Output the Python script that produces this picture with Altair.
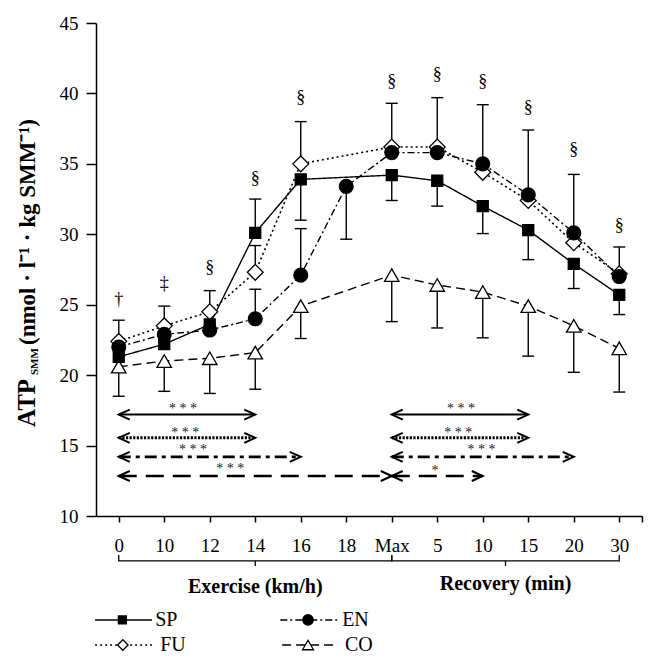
import json
import altair as alt
import pandas as pd

FONT = "Liberation Serif"

# ---------------- data ----------------
cats = ["0", "10", "12", "14", "16", "18", "Max", "5", "10", "15", "20", "30"]
sp = [21.3, 22.2, 23.6, 30.1, 33.9, None, 34.2, 33.8, 32.0, 30.3, 27.9, 25.7]
fu = [22.4, 23.5, 24.5, 27.3, 35.0, None, 36.2, 36.2, 34.4, 32.4, 29.4, 27.2]
en = [22.0, 22.9, 23.2, 24.0, 27.1, 33.4, 35.8, 35.8, 35.0, 32.8, 30.1, 27.0]
co = [20.6, 21.0, 21.2, 21.6, 24.9, None, 27.1, 26.4, 25.9, 24.9, 23.5, 21.9]

# error bar end points (one-sided bars)
sp_err = [None, None, None, 32.5, 31.0, None, 32.4, 32.0, 30.05, 28.2, 26.15, 24.3]
fu_err = [23.9, 24.9, 26.0, 29.2, 38.0, None, None, None, None, None, None, None]
en_err = [None, None, None, 26.1, 30.4, 29.65, 39.3, 39.7, 39.2, 37.4, 34.25, 29.1]
co_err = [18.5, 18.85, 18.7, 19.0, 22.6, None, 23.8, 23.35, 22.65, 21.35, 20.2, 18.8]

sig_labels = ["†", "‡", "§", "§", "§", "", "§", "§", "§", "§", "§", "§"]
sig_y = [25.3, 26.5, 27.6, 33.9, 39.7, None, 40.8, 41.3, 40.8, 39.0, 36.0, 30.6]

arrow_start = [0, 0, 0, 0, 6, 6, 6, 6]
arrow_end = [3, 3, 4, 6, 9, 9, 10, 8]
arrow_y = [17.2, 15.55, 14.2, 12.84, 17.2, 15.55, 14.2, 12.84]
arrow_style = ["solid", "dot", "dashdot", "dash", "solid", "dot", "dashdot", "dash"]
arrow_text = ["* * *", "* * *", "* * *", "* * *", "* * *", "* * *", "* * *", "*"]
arrow_text_x = [1.41, 1.46, 1.63, 2.45, 7.52, 7.46, 7.97, 6.95]
arrow_text_y = [17.3, 15.6, 14.4, 13.05, 17.3, 15.6, 14.4, 12.9]

brace_x = [[0, 0, 6, 6], [6, 6, 11, 11]]
brace_y = [7.23, 6.81, 6.81, 7.23]
brace_mid = [3, 8.5]
brace_mid_y = [6.81, 6.45]

group_labels = ["Exercise (km/h)", "Recovery (min)"]
group_x = [3, 8.5]
group_y = [4.53, 4.75]

leg_names = ["SP", "EN", "FU", "CO"]
leg_x0 = [-0.52, 3.55, -0.52, 3.59]
leg_x1 = [0.73, 4.80, 0.73, 4.82]
leg_mx = [0.08, 4.16, 0.09, 4.16]
leg_tx = [0.80, 4.91, 0.91, 4.97]
leg_y = [2.62, 2.62, 0.84, 0.84]

# ---------------- styles ----------------
series = {
    "SP": dict(vals=sp, err=sp_err, dash=[1, 0], sw=1.4, shape="square", size=121, fill="black"),
    "FU": dict(vals=fu, err=fu_err, dash=[2, 3], sw=1.6, shape="diamond", size=250, fill="white"),
    "EN": dict(vals=en, err=en_err, dash=[7, 3, 2, 3], sw=1.4, shape="circle", size=190, fill="black"),
    "CO": dict(vals=co, err=co_err, dash=[9, 5], sw=1.4, shape="triangle-up", size=210, fill="white"),
}
leg_size = {"SP": 64, "FU": 110, "EN": 110, "CO": 120}
arrow_dash = {"solid": [1, 0], "dot": [2.2, 1.4], "dashdot": [12, 5, 4, 5], "dash": [18, 9]}
arrow_w = {"solid": 2.0, "dot": 3.0, "dashdot": 2.6, "dash": 2.6}

xscale = alt.Scale(domain=[-0.5, 11.5], nice=False, zero=False)
yscale = alt.Scale(domain=[10, 45], nice=False, zero=False)
label_expr = json.dumps(cats) + "[round(datum.value)] || ''"
xaxis = alt.Axis(values=list(range(12)) + [11.5], labelExpr=label_expr, title="", grid=False,
                 domainColor="black", domainWidth=1.5, tickColor="black", tickWidth=1.5,
                 tickSize=6, labelFont=FONT, labelFontSize=19, labelColor="black",
                 labelPadding=14, labelFlush=False, labelOverlap=False)
yaxis = alt.Axis(values=[10, 15, 20, 25, 30, 35, 40, 45], title="", grid=False,
                 domainColor="black", domainWidth=1.5, tickColor="black", tickWidth=1.5,
                 tickSize=10, labelFont=FONT, labelFontSize=19, labelColor="black",
                 labelPadding=8, labelFlush=False, labelOverlap=False)
X = alt.X("x:Q", scale=xscale, axis=xaxis)
Y = alt.Y("y:Q", scale=yscale, axis=yaxis)

layers = []

# series lines
for name in ["CO", "EN", "FU", "SP"]:
    s = series[name]
    df = pd.DataFrame([{"x": i, "y": v} for i, v in enumerate(s["vals"]) if v is not None])
    layers.append(alt.Chart(df).mark_line(color="black", strokeWidth=s["sw"], strokeDash=s["dash"])
                  .encode(x=X, y=Y, order="x:Q"))

# error bars
for name in ["CO", "EN", "FU", "SP"]:
    s = series[name]
    df = pd.DataFrame([{"x": i, "y": v, "y2": e} for i, (v, e) in enumerate(zip(s["vals"], s["err"]))
                       if v is not None and e is not None])
    layers.append(alt.Chart(df).mark_rule(color="black", strokeWidth=1.4)
                  .encode(x=X, y=Y, y2=alt.Y2("y2:Q")))
    dfc = pd.DataFrame({"x": df["x"], "y": df["y2"]})
    layers.append(alt.Chart(dfc).mark_tick(orient="horizontal", color="black", size=12,
                                           thickness=1.4, opacity=1)
                  .encode(x=X, y=Y))

# points
for name in ["CO", "FU", "SP", "EN"]:
    s = series[name]
    df = pd.DataFrame([{"x": i, "y": v} for i, v in enumerate(s["vals"]) if v is not None])
    layers.append(alt.Chart(df).mark_point(shape=s["shape"], size=s["size"], filled=True,
                                           fill=s["fill"], stroke="black", strokeWidth=1.3,
                                           opacity=1, fillOpacity=1)
                  .encode(x=X, y=Y))

# significance marks
dsig = pd.DataFrame([{"x": i, "y": v, "t": t} for i, (t, v) in enumerate(zip(sig_labels, sig_y)) if v is not None])
layers.append(alt.Chart(dsig).mark_text(font=FONT, fontSize=18, color="black", baseline="middle")
              .encode(x=X, y=Y, text="t:N"))

# arrows
for st in ["solid", "dot", "dashdot", "dash"]:
    rows = [i for i, a in enumerate(arrow_style) if a == st]
    df = pd.DataFrame({"x": [arrow_start[i] for i in rows], "x2": [arrow_end[i] for i in rows],
                       "y": [arrow_y[i] for i in rows]})
    layers.append(alt.Chart(df).mark_rule(color="black", strokeWidth=arrow_w[st],
                                          strokeDash=arrow_dash[st])
                  .encode(x=X, x2=alt.X2("x2:Q"), y=Y))
dl = pd.DataFrame({"x": arrow_start, "y": arrow_y})
dr = pd.DataFrame({"x": arrow_end, "y": arrow_y})
layers.append(alt.Chart(dl).mark_point(shape="M2.2,-1L0,0L2.2,1", size=100, filled=False,
                                       stroke="black", strokeWidth=2, opacity=1)
              .encode(x=X, y=Y))
layers.append(alt.Chart(dr).mark_point(shape="M-2.2,-1L0,0L-2.2,1", size=100, filled=False,
                                       stroke="black", strokeWidth=2, opacity=1)
              .encode(x=X, y=Y))
dat = pd.DataFrame({"x": arrow_text_x, "y": arrow_text_y, "t": arrow_text})
layers.append(alt.Chart(dat).mark_text(font=FONT, fontSize=14, color="#222222", baseline="alphabetic")
              .encode(x=X, y=Y, text="t:N"))

# braces
for k, bx in enumerate(brace_x):
    df = pd.DataFrame({"x": bx, "y": brace_y, "o": [0, 1, 2, 3]})
    layers.append(alt.Chart(df).mark_line(color="black", strokeWidth=1.3, interpolate="linear")
                  .encode(x=X, y=Y, order="o:Q"))
dbm = pd.DataFrame({"x": brace_mid, "y": [brace_mid_y[0]] * 2, "y2": [brace_mid_y[1]] * 2})
layers.append(alt.Chart(dbm).mark_rule(color="black", strokeWidth=1.3)
              .encode(x=X, y=Y, y2=alt.Y2("y2:Q")))
dg = pd.DataFrame({"x": group_x, "y": group_y, "t": group_labels})
layers.append(alt.Chart(dg).mark_text(font=FONT, fontSize=20, fontWeight="bold", color="black",
                                      baseline="alphabetic")
              .encode(x=X, y=Y, text="t:N"))

# legend
for k, name in enumerate(leg_names):
    s = series[name]
    dfl = pd.DataFrame({"x": [leg_x0[k]], "x2": [leg_x1[k]], "y": [leg_y[k]]})
    layers.append(alt.Chart(dfl).mark_rule(color="black", strokeWidth=s["sw"], strokeDash=s["dash"])
                  .encode(x=X, x2=alt.X2("x2:Q"), y=Y))
    dfm = pd.DataFrame({"x": [leg_mx[k]], "y": [leg_y[k]]})
    layers.append(alt.Chart(dfm).mark_point(shape=s["shape"], size=leg_size[name], filled=True,
                                            fill=s["fill"], stroke="black", strokeWidth=1.3,
                                            opacity=1, fillOpacity=1)
                  .encode(x=X, y=Y))
    dft = pd.DataFrame({"x": [leg_tx[k]], "y": [leg_y[k]], "t": [name]})
    layers.append(alt.Chart(dft).mark_text(font=FONT, fontSize=20, color="black", align="left",
                                           baseline="middle")
                  .encode(x=X, y=Y, text="t:N"))

# y-axis title (rotated, with subscript)
title_parts = ["ATP", "SMM", "(nmol · l⁻¹ · kg SMM⁻¹)"]
title_size = [25, 11, 23]
title_px = [-61, -58, -61]
title_py = [404, 352, 322]
for t, fs, px, py in zip(title_parts, title_size, title_px, title_py):
    dft = pd.DataFrame({"t": [t]})
    layers.append(alt.Chart(dft).mark_text(font=FONT, fontSize=fs, fontWeight="bold", color="black",
                                           angle=270, align="left", baseline="alphabetic")
                  .encode(x=alt.value(px), y=alt.value(py), text="t:N"))

chart = alt.layer(*layers).properties(
    width=546, height=493,
    autosize=alt.AutoSizeParams(type="none"),
    padding={"left": 88, "top": 15, "right": 6, "bottom": 143},
    background="white",
).configure_view(strokeWidth=0)

chart.save("out.html", embed_options={"renderer": "svg", "actions": False})
